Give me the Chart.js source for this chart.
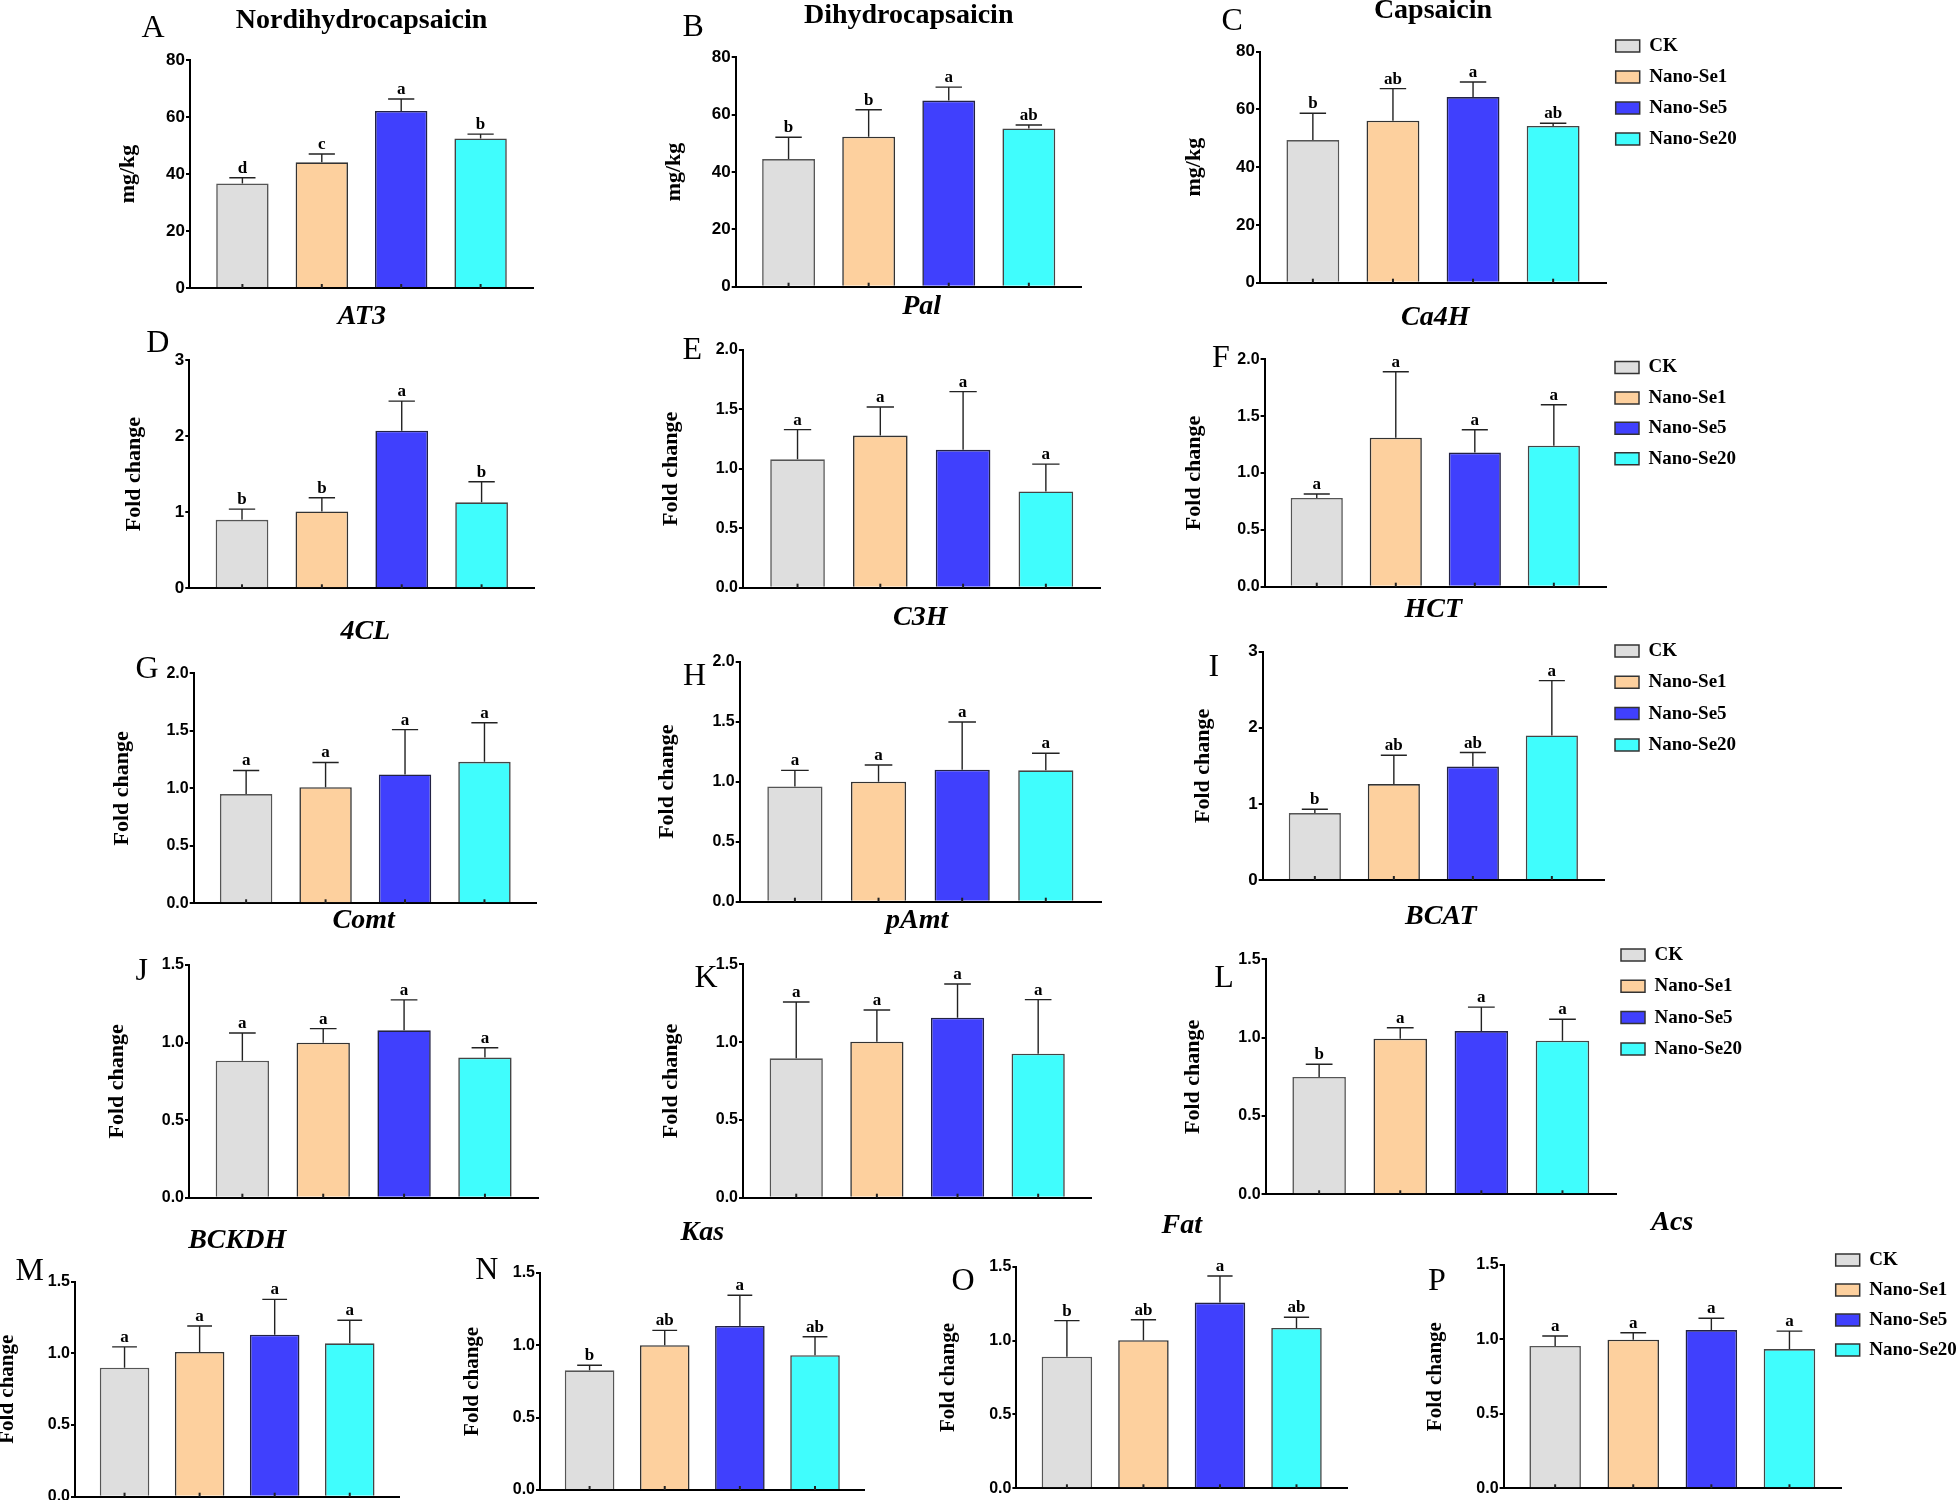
<!DOCTYPE html>
<html>
<head>
<meta charset="utf-8">
<script src="https://cdn.jsdelivr.net/npm/chart.js@4.4.1/dist/chart.umd.min.js"></script>
<style>
  html, body { margin: 0; padding: 0; background: #fff; overflow: hidden; }
  #fig { position: relative; width: 1960px; height: 1500px; overflow: hidden; background: #fff; }
  #fig canvas { position: absolute; }
  .tag { position: absolute; font: 32px/1 "Liberation Serif", "Times New Roman", serif; color: #000; white-space: nowrap; }
</style>
</head>
<body>
<div id="fig"></div>
<script>
const groups = ['CK', 'Nano-Se1', 'Nano-Se5', 'Nano-Se20'];
const barFill = ['#dedede', '#fdd09e', '#4040fd', '#40fdfd'];
const barEdge = ['#555555', '#333333', '#222244', '#444444'];

// A - Nordihydrocapsaicin
const meanA = [36.7, 44.1, 62.1, 52.5];
const errA = [2.0, 2.9, 4.2, 1.5];
const sigA = ['d', 'c', 'a', 'b'];
// B - Dihydrocapsaicin
const meanB = [44.5, 52.3, 64.9, 55.2];
const errB = [7.6, 9.4, 4.7, 1.2];
const sigB = ['b', 'b', 'a', 'ab'];
// C - Capsaicin
const meanC = [49.4, 56.1, 64.3, 54.3];
const errC = [9.3, 11.1, 5.2, 0.9];
const sigC = ['b', 'ab', 'a', 'ab'];
// D - AT3
const meanD = [0.90, 1.01, 2.07, 1.13];
const errD = [0.14, 0.18, 0.39, 0.27];
const sigD = ['b', 'b', 'a', 'b'];
// E - Pal
const meanE = [1.08, 1.28, 1.16, 0.81];
const errE = [0.25, 0.24, 0.49, 0.23];
const sigE = ['a', 'a', 'a', 'a'];
// F - Ca4H
const meanF = [0.78, 1.31, 1.18, 1.24];
const errF = [0.035, 0.58, 0.20, 0.36];
const sigF = ['a', 'a', 'a', 'a'];
// G - 4CL
const meanG = [0.95, 1.01, 1.12, 1.23];
const errG = [0.205, 0.215, 0.39, 0.34];
const sigG = ['a', 'a', 'a', 'a'];
// H - C3H
const meanH = [0.96, 1.00, 1.10, 1.095];
const errH = [0.134, 0.139, 0.397, 0.142];
const sigH = ['a', 'a', 'a', 'a'];
// I - HCT
const meanI = [0.88, 1.26, 1.49, 1.90];
const errI = [0.05, 0.38, 0.185, 0.72];
const sigI = ['b', 'ab', 'ab', 'a'];
// J - Comt
const meanJ = [0.883, 0.999, 1.079, 0.903];
const errJ = [0.179, 0.091, 0.196, 0.064];
const sigJ = ['a', 'a', 'a', 'a'];
// K - pAmt
const meanK = [0.896, 1.003, 1.157, 0.925];
const errK = [0.362, 0.203, 0.216, 0.348];
const sigK = ['a', 'a', 'a', 'a'];
// L - BCAT
const meanL = [0.749, 0.993, 1.042, 0.98];
const errL = [0.081, 0.07, 0.153, 0.137];
const sigL = ['b', 'a', 'a', 'a'];
// M - BCKDH
const meanM = [0.90, 1.01, 1.13, 1.07];
const errM = [0.145, 0.181, 0.247, 0.161];
const sigM = ['a', 'a', 'a', 'a'];
// N - Kas
const meanN = [0.826, 1.0, 1.132, 0.93];
const errN = [0.035, 0.102, 0.212, 0.128];
const sigN = ['b', 'ab', 'a', 'ab'];
// O - Fat
const meanO = [0.891, 1.002, 1.257, 1.085];
const errO = [0.244, 0.139, 0.18, 0.073];
const sigO = ['b', 'ab', 'a', 'ab'];
// P - Acs
const meanP = [0.956, 0.998, 1.063, 0.935];
const errP = [0.067, 0.047, 0.079, 0.121];
const sigP = ['a', 'a', 'a', 'a'];

const panels = [
  { id: 'A', title: 'Nordihydrocapsaicin', italic: false, yTitle: 'mg/kg', max: 80, step: 20, dec: 0, mean: meanA, err: errA, sig: sigA },
  { id: 'B', title: 'Dihydrocapsaicin', italic: false, yTitle: 'mg/kg', max: 80, step: 20, dec: 0, mean: meanB, err: errB, sig: sigB },
  { id: 'C', title: 'Capsaicin', italic: false, yTitle: 'mg/kg', max: 80, step: 20, dec: 0, mean: meanC, err: errC, sig: sigC },
  { id: 'D', title: 'AT3', italic: true, yTitle: 'Fold change', max: 3, step: 1, dec: 0, mean: meanD, err: errD, sig: sigD },
  { id: 'E', title: 'Pal', italic: true, yTitle: 'Fold change', max: 2, step: 0.5, dec: 1, mean: meanE, err: errE, sig: sigE },
  { id: 'F', title: 'Ca4H', italic: true, yTitle: 'Fold change', max: 2, step: 0.5, dec: 1, mean: meanF, err: errF, sig: sigF },
  { id: 'G', title: '4CL', italic: true, yTitle: 'Fold change', max: 2, step: 0.5, dec: 1, mean: meanG, err: errG, sig: sigG },
  { id: 'H', title: 'C3H', italic: true, yTitle: 'Fold change', max: 2, step: 0.5, dec: 1, mean: meanH, err: errH, sig: sigH },
  { id: 'I', title: 'HCT', italic: true, yTitle: 'Fold change', max: 3, step: 1, dec: 0, mean: meanI, err: errI, sig: sigI },
  { id: 'J', title: 'Comt', italic: true, yTitle: 'Fold change', max: 1.5, step: 0.5, dec: 1, mean: meanJ, err: errJ, sig: sigJ },
  { id: 'K', title: 'pAmt', italic: true, yTitle: 'Fold change', max: 1.5, step: 0.5, dec: 1, mean: meanK, err: errK, sig: sigK },
  { id: 'L', title: 'BCAT', italic: true, yTitle: 'Fold change', max: 1.5, step: 0.5, dec: 1, mean: meanL, err: errL, sig: sigL },
  { id: 'M', title: 'BCKDH', italic: true, yTitle: 'Fold change', max: 1.5, step: 0.5, dec: 1, mean: meanM, err: errM, sig: sigM },
  { id: 'N', title: 'Kas', italic: true, yTitle: 'Fold change', max: 1.5, step: 0.5, dec: 1, mean: meanN, err: errN, sig: sigN },
  { id: 'O', title: 'Fat', italic: true, yTitle: 'Fold change', max: 1.5, step: 0.5, dec: 1, mean: meanO, err: errO, sig: sigO },
  { id: 'P', title: 'Acs', italic: true, yTitle: 'Fold change', max: 1.5, step: 0.5, dec: 1, mean: meanP, err: errP, sig: sigP }
];

// page geometry: axis x from/to, y of top tick / zero, title baseline, y-title offset, tag position
const layout = {
  A: { x0: 190, x1: 533, y0: 60, y1: 288, tb: 30, lab: 61.5, yFont: 22, tag: [142, 37] },
  B: { x0: 735.7, x1: 1081.7, y0: 57.3, y1: 286.7, tb: 25, lab: 61, yFont: 22, tag: [683, 36] },
  C: { x0: 1260, x1: 1606, y0: 51.7, y1: 282.7, tb: 20.7, lab: 66, yFont: 22, tag: [1222, 30] },
  D: { x0: 189.3, x1: 534.3, y0: 360, y1: 588.3, tb: 326.7, lab: 55, yFont: 22, tag: [146.7, 351.7] },
  E: { x0: 742.9, x1: 1100.5, y0: 350, y1: 587.7, tb: 316, lab: 72, yFont: 22, tag: [683, 359] },
  F: { x0: 1264.6, x1: 1606, y0: 359.3, y1: 586.7, tb: 327, lab: 70, yFont: 22, tag: [1212.6, 366.7] },
  G: { x0: 193.7, x1: 536.9, y0: 673.3, y1: 903.3, tb: 641.7, lab: 71.4, yFont: 22, tag: [136, 677.3] },
  H: { x0: 739.7, x1: 1101, y0: 661.7, y1: 901.7, tb: 627, lab: 72, yFont: 22, tag: [683.5, 685] },
  I: { x0: 1262.7, x1: 1604, y0: 651.7, y1: 880, tb: 619, lab: 59.7, yFont: 22, tag: [1209, 675.7] },
  J: { x0: 189, x1: 538.3, y0: 965, y1: 1197.7, tb: 930, lab: 72, yFont: 22, tag: [136, 980] },
  K: { x0: 743, x1: 1091.4, y0: 964.3, y1: 1197.7, tb: 930, lab: 72, yFont: 22, tag: [695, 987] },
  L: { x0: 1265.6, x1: 1616, y0: 959.3, y1: 1194.3, tb: 926.7, lab: 72.6, yFont: 22, tag: [1214.8, 986.7] },
  M: { x0: 75, x1: 399.3, y0: 1281.7, y1: 1496.7, tb: 1250.7, lab: 67.5, yFont: 21, tag: [16, 1280] },
  N: { x0: 540, x1: 864.6, y0: 1272.7, y1: 1490, tb: 1242.7, lab: 67, yFont: 21, tag: [475.7, 1279] },
  O: { x0: 1016.4, x1: 1347, y0: 1266.7, y1: 1488.3, tb: 1235, lab: 68, yFont: 21, tag: [952, 1290] },
  P: { x0: 1503.6, x1: 1841, y0: 1265, y1: 1488.3, tb: 1232.7, lab: 68, yFont: 21, tag: [1428.6, 1290] }
};

// legend blocks: box left, centre of first box, row pitch
const legendSpots = [
  { bx: 1615.7, cy: 46, pitch: 31 },
  { bx: 1615, cy: 367.5, pitch: 30.4 },
  { bx: 1615, cy: 651, pitch: 31.3 },
  { bx: 1621, cy: 955, pitch: 31.3 },
  { bx: 1835.7, cy: 1260, pitch: 30 }
];

const charts = {};
const fig = document.getElementById('fig');

// error bars, significance letters and the small inner ticks
const barExtras = {
  id: 'barExtras',
  afterDatasetsDraw(chart) {
    const ctx = chart.ctx;
    const y = chart.scales.y;
    const ds = chart.data.datasets[0];
    const bars = chart.getDatasetMeta(0).data;
    ctx.save();
    bars.forEach((bar, i) => {
      const tip = y.getPixelForValue(ds.data[i].y + ds.errors[i]);
      const cap = bar.width / 4;
      ctx.strokeStyle = '#222';
      ctx.lineWidth = 1.4;
      ctx.beginPath();
      ctx.moveTo(bar.x, bar.y);
      ctx.lineTo(bar.x, tip);
      ctx.moveTo(bar.x - cap, tip);
      ctx.lineTo(bar.x + cap, tip);
      ctx.stroke();

      ctx.lineWidth = 2;
      ctx.beginPath();
      ctx.moveTo(bar.x, y.bottom);
      ctx.lineTo(bar.x, y.bottom - 4);
      ctx.stroke();

      ctx.fillStyle = '#000';
      ctx.font = 'bold 17px "Liberation Serif"';
      ctx.textAlign = 'center';
      ctx.textBaseline = 'alphabetic';
      ctx.fillText(ds.letters[i], bar.x, tip - 5);
    });
    ctx.restore();
  }
};

function makeCanvas(left, top, right, bottom) {
  const c = document.createElement('canvas');
  const cl = Math.floor(left);
  const ct = Math.floor(top);
  c.width = Math.ceil(right) - cl;
  c.height = Math.ceil(bottom) - ct;
  c.style.left = cl + 'px';
  c.style.top = ct + 'px';
  c.style.width = c.width + 'px';
  c.style.height = c.height + 'px';
  fig.appendChild(c);
  return { c, cl, ct };
}

function createPanel(p) {
  const L = layout[p.id];
  const axisW = L.lab + L.yFont * 0.6;
  const left = L.x0 - axisW;
  const top = L.tb - 26.25 - 4;
  const { c, cl, ct } = makeCanvas(left, top, L.x1 + 12, L.y1 + 14);
  const pad = {
    left: left - cl,
    top: top + 4 - ct,
    right: c.width - (L.x1 - cl),
    bottom: c.height - (L.y1 - ct)
  };

  charts[p.id] = new Chart(c, {
    type: 'bar',
    data: {
      datasets: [{
        data: p.mean.map((v, i) => ({ x: i, y: v })),
        errors: p.err,
        letters: p.sig,
        backgroundColor: barFill,
        borderColor: barEdge,
        borderWidth: 1.6,
        categoryPercentage: 1,
        barPercentage: 0.66
      }]
    },
    options: {
      responsive: false,
      animation: false,
      events: [],
      layout: { padding: pad },
      plugins: {
        legend: { display: false },
        tooltip: { enabled: false },
        title: {
          display: true,
          text: p.title,
          fullSize: false,
          color: '#000',
          font: { family: 'Liberation Serif', size: 28, weight: 'bold', style: p.italic ? 'italic' : 'normal', lineHeight: 1.2 },
          padding: { top: 0, bottom: L.y0 - L.tb - 7.35 }
        }
      },
      scales: {
        x: {
          type: 'linear',
          bounds: 'data',
          offset: false,
          min: -0.66,
          max: 3.66,
          afterBuildTicks: s => { s.ticks = [0, 1, 2, 3].map(v => ({ value: v })); },
          afterFit: s => { s.height = 0; },
          ticks: { display: false },
          grid: { display: false, offset: false },
          border: { color: '#000', width: 2 },
          z: 1
        },
        y: {
          min: 0,
          max: p.max,
          afterFit: s => { s.width = axisW; },
          ticks: {
            stepSize: p.step,
            padding: 1,
            color: '#000',
            font: { family: 'Liberation Sans', size: p.dec ? 16 : 17, weight: 'bold' },
            callback: v => Number(v).toFixed(p.dec)
          },
          grid: { drawOnChartArea: false, tickLength: 4, color: '#000', lineWidth: 2 },
          border: { color: '#000', width: 2 },
          title: {
            display: true,
            text: p.yTitle,
            color: '#000',
            padding: 0,
            font: { family: 'Liberation Serif', size: L.yFont, weight: 'bold', lineHeight: 1.2 }
          }
        }
      }
    },
    plugins: [barExtras]
  });

  const tag = document.createElement('div');
  tag.className = 'tag';
  tag.textContent = p.id;
  tag.style.left = (L.tag[0] - 0.5) + 'px';
  tag.style.top = (L.tag[1] - 26.8) + 'px';
  fig.appendChild(tag);
}

function createLegend(spot, n) {
  const size = 19;
  const gap = spot.pitch - size;
  const left = spot.bx - gap;
  const top = spot.cy - size / 2 - gap;
  const { c, cl, ct } = makeCanvas(left, top, left + 300, top + 170);
  charts['legend' + n] = new Chart(c, {
    type: 'bar',
    data: { labels: groups, datasets: [{ data: [] }] },
    options: {
      responsive: false,
      animation: false,
      events: [],
      layout: { padding: { left: left - cl, top: top - ct, right: 0, bottom: 0 } },
      scales: { x: { display: false }, y: { display: false } },
      plugins: {
        tooltip: { enabled: false },
        legend: {
          position: 'left',
          align: 'start',
          labels: {
            boxWidth: 24,
            boxHeight: 12,
            padding: gap,
            color: '#000',
            font: { family: 'Liberation Serif', size: size, weight: 'bold' },
            generateLabels: () => groups.map((g, i) => ({
              text: g,
              fillStyle: barFill[i],
              strokeStyle: '#333',
              lineWidth: 1.5,
              hidden: false,
              index: i
            }))
          }
        }
      }
    }
  });
}

panels.forEach(createPanel);
legendSpots.forEach(createLegend);
</script>
</body>
</html>
